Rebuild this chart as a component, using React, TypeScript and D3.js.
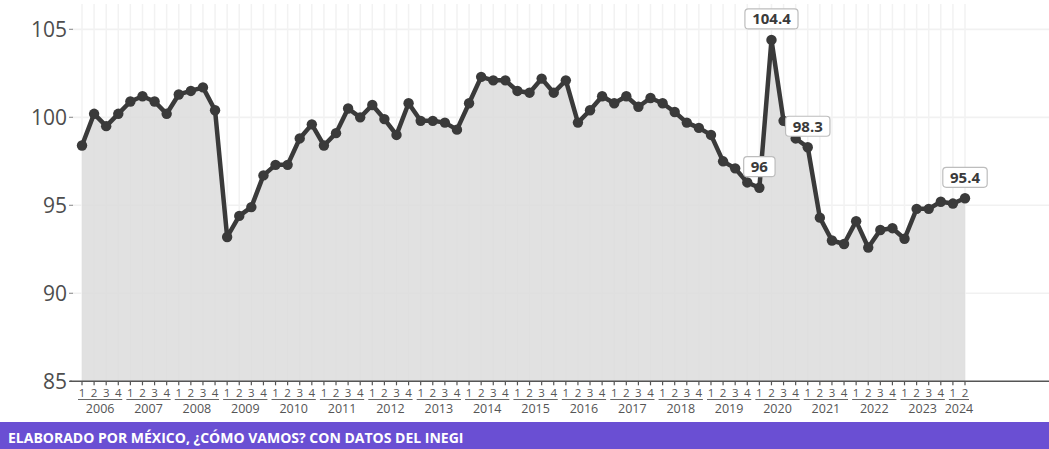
import React from 'react';
import * as d3 from 'd3';

const years = [2006, 2007, 2008, 2009, 2010, 2011, 2012, 2013, 2014, 2015, 2016, 2017, 2018, 2019, 2020, 2021, 2022, 2023, 2024];
const quarters = ['1', '2', '3', '4'];
const values = [
  98.4, 100.2, 99.5, 100.2,
  100.9, 101.2, 100.9, 100.2,
  101.3, 101.5, 101.7, 100.4,
  93.2, 94.4, 94.9, 96.7,
  97.3, 97.3, 98.8, 99.6,
  98.4, 99.1, 100.5, 100.0,
  100.7, 99.9, 99.0, 100.8,
  99.8, 99.8, 99.7, 99.3,
  100.8, 102.3, 102.1, 102.1,
  101.5, 101.4, 102.2, 101.4,
  102.1, 99.7, 100.4, 101.2,
  100.8, 101.2, 100.6, 101.1,
  100.8, 100.3, 99.7, 99.4,
  99.0, 97.5, 97.1, 96.3,
  96.0, 104.4, 99.8, 98.8,
  98.3, 94.3, 93.0, 92.8,
  94.1, 92.6, 93.6, 93.7,
  93.1, 94.8, 94.8, 95.2,
  95.1, 95.4,
];
const labelledIdx = [56, 57, 60, 73];
const yTicks = [85, 90, 95, 100, 105];
const footerText = 'ELABORADO POR MÉXICO, ¿CÓMO VAMOS? CON DATOS DEL INEGI';

const categories = years
  .flatMap((yr) => quarters.map((q) => ({ year: yr, q })))
  .slice(0, values.length);

const W = 1049;
const H = 449;
const FONT = "'Open Sans', 'Noto Sans', sans-serif";

function fmt(v: number) {
  return Number.isInteger(v) ? String(v) : v.toFixed(1);
}
function textW(s: string) {
  let w = 0;
  for (const c of s) w += c === '.' ? 4.3 : 8.7;
  return w;
}

export default function App() {
  const idx = d3.range(values.length);
  const x = d3.scalePoint<number>().domain(idx).range([82, 965]);
  const y = d3.scaleLinear().domain([85, 106.4]).range([381.3, 4.7]);
  const xs = (i: number) => x(i) as number;

  const area = d3
    .area<number>()
    .x((_, i) => xs(i))
    .y0(y(85))
    .y1((d) => y(d));
  const line = d3
    .line<number>()
    .x((_, i) => xs(i))
    .y((d) => y(d));

  const yearGroups = years.map((yr) => {
    const ids = idx.filter((i) => categories[i].year === yr);
    return { yr, first: xs(ids[0]), last: xs(ids[ids.length - 1]) };
  });

  return (
    <div style={{ position: 'absolute', left: 0, top: 0, width: W, height: H, background: '#fff' }}>
      <svg width={W} height={H} style={{ display: 'block' }}>
        <rect x={0} y={0} width={W} height={H} fill="#fff" />
        {/* horizontal grid */}
        {yTicks.slice(1).map((t) => (
          <line key={'h' + t} x1={72} x2={W} y1={y(t)} y2={y(t)} stroke="#f1f1f1" strokeWidth={1.6} />
        ))}
        {/* vertical grid */}
        {idx.map((i) => (
          <line key={'v' + i} x1={xs(i)} x2={xs(i)} y1={4} y2={y(85)} stroke="#f2f2f2" strokeWidth={1.5} />
        ))}
        {/* area */}
        <path d={area(values) || ''} fill="#dcdcdc" fillOpacity={0.85} />
        {/* axis line */}
        <line x1={70} x2={W} y1={y(85)} y2={y(85)} stroke="#555" strokeWidth={1.5} />
        {/* y ticks & labels */}
        {yTicks.map((t) => (
          <g key={'y' + t}>
            <line x1={69} x2={t === 85 ? 72 : 73} y1={y(t)} y2={y(t)} stroke={t === 85 ? '#555' : '#999'} strokeWidth={1.2} />
            <text x={67} y={y(t) + 7.5} textAnchor="end" fontFamily={FONT} fontSize={21} fill="#4d4d4d">
              {t}
            </text>
          </g>
        ))}
        {/* x ticks and quarter labels */}
        {idx.map((i) => (
          <g key={'x' + i}>
            <line x1={xs(i)} x2={xs(i)} y1={y(85)} y2={y(85) + 4} stroke="#555" strokeWidth={1.2} />
            <text x={xs(i)} y={397} textAnchor="middle" fontFamily={FONT} fontSize={11.5} fill="#555">
              {categories[i].q}
            </text>
          </g>
        ))}
        {/* year groups */}
        {yearGroups.map((g) => (
          <g key={'yr' + g.yr}>
            <line x1={g.first - 4} x2={g.last + 4} y1={399.5} y2={399.5} stroke="#666" strokeWidth={1} />
            <text x={(g.first + g.last) / 2} y={413} textAnchor="middle" fontFamily={FONT} fontSize={12.5} fill="#555">
              {g.yr}
            </text>
          </g>
        ))}
        {/* line + points */}
        <path d={line(values) || ''} fill="none" stroke="#3a3a3a" strokeWidth={4.5} strokeLinejoin="round" />
        {values.map((v, i) => (
          <circle key={'p' + i} cx={xs(i)} cy={y(v)} r={5.2} fill="#3a3a3a" />
        ))}
        {/* labels */}
        {labelledIdx.map((i) => {
          const s = fmt(values[i]);
          const w = textW(s) + 14;
          const cx = xs(i);
          const cy = y(values[i]);
          return (
            <g key={'l' + i}>
              <rect x={cx - w / 2} y={cy - 31} width={w} height={20} rx={3.5} fill="#fff" stroke="#bdbdbd" strokeWidth={1.2} />
              <text x={cx} y={cy - 15.5} textAnchor="middle" fontFamily={FONT} fontWeight={700} fontSize={15} fill="#3a3a3a">
                {s}
              </text>
            </g>
          );
        })}
        {/* footer */}
        <rect x={0} y={422} width={W} height={H - 422} fill="#6a4fd3" />
        <text x={8} y={443} fontFamily={FONT} fontWeight={700} fontSize={14} fill="#fff">
          {footerText}
        </text>
      </svg>
    </div>
  );
}
